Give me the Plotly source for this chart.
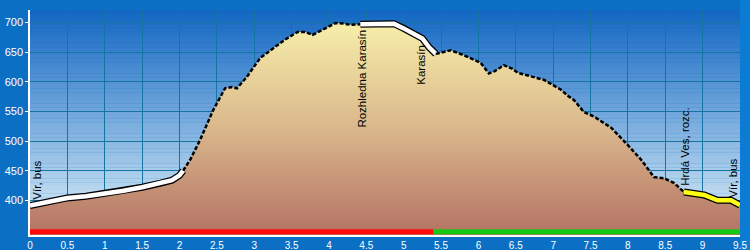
import plotly.graph_objects as go

# ---- data ----
dist = [0, 0.25, 0.5, 0.75, 1.0, 1.25, 1.5, 1.75, 1.9, 2.0, 2.05, 2.15, 2.28, 2.45, 2.61, 2.7,
        2.77, 2.9, 3.08, 3.22, 3.4, 3.58, 3.68, 3.78, 3.98, 4.09, 4.2, 4.29, 4.42, 4.87, 5.0,
        5.12, 5.25, 5.34, 5.43, 5.52, 5.63, 5.8, 5.94, 6.03, 6.14, 6.22, 6.34, 6.45, 6.53, 6.7,
        6.88, 7.1, 7.2, 7.28, 7.41, 7.55, 7.78, 8.0, 8.18, 8.35, 8.49, 8.62, 8.75, 8.89, 9.02,
        9.2, 9.38, 9.5]
elev = [391, 398, 404, 407, 411, 416, 422, 429, 434, 442, 450, 470, 503, 552, 589, 591,
        589, 608, 640, 653, 670, 684, 684, 679, 692, 699, 698, 696, 697, 698, 690,
        681, 673, 658, 647, 650, 653, 645, 637, 632, 614, 618, 628, 622, 615, 609,
        603, 587, 576, 569, 549, 541, 522, 493, 468, 439, 437, 429, 414, 412, 409,
        400, 400, 392]

# segments of the path: (start km, end km, style)
seg_start = [0, 2.05, 4.42, 5.43, 8.75]
seg_end = [2.05, 4.42, 5.43, 8.75, 9.5]
seg_style = ["white", "dash", "white", "dash", "yellow"]

# surface bar: (start, end, color)
bar_start = [0, 5.4]
bar_end = [5.4, 9.5]
bar_color = ["#ff0a0a", "#14c814"]
bar_level = 347

# waypoint labels
lab_text = ["Vír, bus", "Rozhledna Karasín", "Karasín", "Hrdá Ves, rozc.", "Vír, bus"]
lab_x = [0.1, 4.44, 5.24, 8.77, 9.41]
lab_y = [434, 605, 628, 491, 437]

ytick_vals = [400, 450, 500, 550, 600, 650, 700]
xtick_vals = [i * 0.5 for i in range(20)]
xtick_text = ["0" if v == 0 else (str(int(v)) if v == int(v) else str(v)) for v in xtick_vals]

YMIN, YMAX = 341.5, 721
FONT = "Liberation Sans, Arial, sans-serif"

fig = go.Figure()

# terrain fill
fig.add_trace(go.Scatter(
    x=dist, y=elev, mode="lines", line=dict(width=0, color="rgba(0,0,0,0)"),
    fill="tozeroy",
    fillgradient=dict(type="vertical", start=YMIN, stop=705,
                      colorscale=[[0, "#b47264"], [0.5, "#dab88c"], [1, "#f8f0aa"]]),
    hoverinfo="skip", showlegend=False))

# path segments
for s0, s1, st in zip(seg_start, seg_end, seg_style):
    xs = [d for d in dist if s0 - 1e-9 <= d <= s1 + 1e-9]
    ys = [e for d, e in zip(dist, elev) if s0 - 1e-9 <= d <= s1 + 1e-9]
    if st == "dash":
        fig.add_trace(go.Scatter(x=xs, y=ys, mode="lines",
                                 line=dict(color="black", width=2.5, dash="4px,2px"),
                                 hoverinfo="skip", showlegend=False))
    else:
        inner = "white" if st == "white" else "#ffff14"
        fig.add_trace(go.Scatter(x=xs, y=ys, mode="lines",
                                 line=dict(color="black", width=7),
                                 hoverinfo="skip", showlegend=False))
        fig.add_trace(go.Scatter(x=xs, y=ys, mode="lines",
                                 line=dict(color=inner, width=4.5),
                                 hoverinfo="skip", showlegend=False))

# surface bar
for b0, b1, c in zip(bar_start, bar_end, bar_color):
    fig.add_trace(go.Scatter(x=[b0, b1], y=[bar_level, bar_level], mode="lines",
                             line=dict(color=c, width=5), hoverinfo="skip", showlegend=False))

# sky gradient bands
shapes = []
N = 60
top_c = (18, 102, 194)
bot_c = (226, 243, 250)
for i in range(N):
    t0 = i / N
    t1 = (i + 1) / N
    tm = (t0 + t1) / 2
    c = tuple(int(round(bot_c[k] + (top_c[k] - bot_c[k]) * tm)) for k in range(3))
    shapes.append(dict(type="rect", xref="paper", yref="y", x0=0, x1=1,
                       y0=YMIN + (YMAX - YMIN) * t0, y1=YMIN + (YMAX - YMIN) * t1 + 0.5,
                       fillcolor="rgb(%d,%d,%d)" % c, line=dict(width=0), layer="below"))
shapes.append(dict(type="rect", xref="paper", yref="paper", x0=1.0, x1=1.03, y0=-0.2, y1=1.1,
                   fillcolor="#0c7bd4", line=dict(width=0), layer="below"))

annotations = []
for t, x, y in zip(lab_text, lab_x, lab_y):
    annotations.append(dict(x=x, y=y, xref="x", yref="y", text=t, textangle=-90,
                            showarrow=False, font=dict(family=FONT, size=11.5, color="black"),
                            xanchor="center", yanchor="middle"))

fig.update_layout(
    width=750, height=250,
    margin=dict(l=30, r=10, t=10, b=15),
    paper_bgcolor="#0b6fc4",
    plot_bgcolor="rgba(0,0,0,0)",
    template="none",
    shapes=shapes,
    annotations=annotations,
    font=dict(family=FONT, size=11, color="white"),
    xaxis=dict(range=[0, 9.5], tickvals=xtick_vals, ticktext=xtick_text,
               showgrid=True, gridcolor="#1474a2", gridwidth=1,
               showline=True, linecolor="white", linewidth=1.5,
               ticks="", ticklabelstandoff=0,
               tickfont=dict(family=FONT, size=10, color="white"),
               zeroline=False, automargin=False, fixedrange=True),
    yaxis=dict(range=[YMIN, YMAX], tickvals=ytick_vals,
               showgrid=True, gridcolor="#1474a2", gridwidth=1,
               showline=True, linecolor="white", linewidth=1.5,
               ticks="outside", ticklen=3, tickcolor="white",
               tickfont=dict(family=FONT, size=11, color="white"),
               zeroline=False, automargin=False, fixedrange=True),
)

fig.write_html("out.html")
